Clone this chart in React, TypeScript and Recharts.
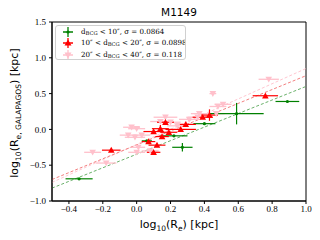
import React from "react";
import {
  ScatterChart,
  Scatter,
  XAxis,
  YAxis,
  ErrorBar,
  ReferenceLine,
  ReferenceArea,
} from "recharts";

const xTicks = [-0.4, -0.2, 0.0, 0.2, 0.4, 0.6, 0.8, 1.0];
const yTicks = [-1.0, -0.5, 0.0, 0.5, 1.0, 1.5];

const greenX = [-0.34, 0.06, 0.22, 0.27, 0.4, 0.59, 0.89];
const greenY = [-0.69, -0.16, -0.09, -0.25, 0.08, 0.22, 0.39];
const greenXerr = [0.08, 0.03, 0.08, 0.06, 0.065, 0.16, 0.07];
const greenYerr = [0.005, 0.005, 0.005, 0.06, 0.005, 0.15, 0.005];

const redX = [-0.15, 0.07, 0.1, 0.1, 0.12, 0.14, 0.15, 0.17, 0.19, 0.26, 0.29, 0.39, 0.43, 0.76];
const redY = [-0.29, -0.17, -0.03, -0.32, -0.22, 0.01, -0.1, 0.1, -0.04, 0.0, 0.07, 0.17, 0.2, 0.47];
const redXerr = [0.055, 0.04, 0.06, 0.04, 0.05, 0.05, 0.04, 0.05, 0.05, 0.09, 0.06, 0.06, 0.05, 0.075];
const redYerr = [0.01, 0.01, 0.01, 0.01, 0.01, 0.05, 0.01, 0.01, 0.01, 0.01, 0.01, 0.01, 0.08, 0.02];

const pinkX = [-0.26, -0.18, -0.05, -0.03, -0.01, 0.0, 0.01, 0.03, 0.0, 0.14, 0.17, 0.2, 0.31, 0.36, 0.37, 0.45, 0.48, 0.51, 0.47, 0.78, 0.08, 0.24];
const pinkY = [-0.32, -0.47, -0.08, 0.03, -0.11, -0.32, -0.25, -0.08, 0.01, 0.11, 0.17, 0.1, 0.14, 0.17, 0.22, 0.5, 0.32, 0.35, 0.22, 0.7, -0.3, 0.05];
const pinkXerr = [0.05, 0.06, 0.05, 0.05, 0.06, 0.05, 0.04, 0.05, 0.05, 0.06, 0.07, 0.06, 0.06, 0.06, 0.05, 0.02, 0.05, 0.05, 0.05, 0.06, 0.05, 0.06];

const fitX = [-0.5, 1.0];
const greenFitY = [-0.82, 0.6];
const redFitY = [-0.7, 0.75];
const pinkFitY = [-0.74, 0.85];

const greenData = greenX.map((x, i) => ({ x, y: greenY[i], xe: greenXerr[i], ye: greenYerr[i] }));
const redData = redX.map((x, i) => ({ x, y: redY[i], xe: redXerr[i], ye: redYerr[i] }));
const pinkData = pinkX.map((x, i) => ({ x, y: pinkY[i], xe: pinkXerr[i], ye: 0.01 }));

const GREEN = "#008000";
const RED = "#ff0000";
const PINK = "#ffc0cb";

const fmt = (v: number) => (v < 0 ? "\u2212" : "") + Math.abs(v).toFixed(1);

const Dot = (props: any) => {
  const { cx, cy } = props;
  return <circle cx={cx} cy={cy} r={1.6} fill={GREEN} />;
};
const TriUp = (props: any) => {
  const { cx, cy } = props;
  const s = 3.3;
  return <polygon points={`${cx},${cy - s} ${cx - s},${cy + s * 0.8} ${cx + s},${cy + s * 0.8}`} fill={RED} />;
};
const TriDown = (props: any) => {
  const { cx, cy } = props;
  const s = 3.3;
  return <polygon points={`${cx},${cy + s} ${cx - s},${cy - s * 0.8} ${cx + s},${cy - s * 0.8}`} fill={PINK} />;
};

const tickStyle = { fontFamily: "Liberation Serif", fontSize: 9, fill: "#000" };

const LegendMarker = ({ color, kind }: { color: string; kind: string }) => (
  <svg width={12} height={10} style={{ verticalAlign: "middle" }}>
    <line x1={1} y1={5} x2={11} y2={5} stroke={color} strokeWidth={1.3} />
    <line x1={6} y1={0} x2={6} y2={10} stroke={color} strokeWidth={1.3} />
    {kind === "dot" && <circle cx={6} cy={5} r={1.6} fill={color} />}
    {kind === "up" && <polygon points="6,1.5 2.5,7.5 9.5,7.5" fill={color} />}
    {kind === "down" && <polygon points="6,8.5 2.5,2.5 9.5,2.5" fill={color} />}
  </svg>
);

const sub = { fontSize: 5.2, verticalAlign: "-1px" };

export default function App() {
  return (
    <div style={{ position: "absolute", left: 0, top: 0, width: 320, height: 240, background: "#fff" }}>
      <ScatterChart width={320} height={240} margin={{ top: 22, right: 14, bottom: 14, left: 0 }}>
        <XAxis
          type="number"
          dataKey="x"
          domain={[-0.5, 1.0]}
          ticks={xTicks}
          tickFormatter={fmt}
          tick={tickStyle}
          tickSize={3}
          tickMargin={2}
          height={25}
          axisLine={{ stroke: "#000" }}
          tickLine={{ stroke: "#000" }}
          allowDataOverflow
        />
        <YAxis
          type="number"
          dataKey="y"
          domain={[-1.0, 1.5]}
          ticks={yTicks}
          tickFormatter={fmt}
          tick={tickStyle}
          tickSize={3}
          tickMargin={3}
          width={52}
          axisLine={{ stroke: "#000" }}
          tickLine={{ stroke: "#000" }}
          allowDataOverflow
        />
        <ReferenceArea x1={-0.5} x2={1.0} y1={-1.0} y2={1.5} fill="none" stroke="#000" strokeWidth={1} />
        <ReferenceLine
          segment={[{ x: fitX[0], y: pinkFitY[0] }, { x: fitX[1], y: pinkFitY[1] }]}
          stroke={PINK}
          strokeDasharray="3 2"
          strokeWidth={0.9}
        />
        <ReferenceLine
          segment={[{ x: fitX[0], y: redFitY[0] }, { x: fitX[1], y: redFitY[1] }]}
          stroke="#f07070"
          strokeDasharray="3 2"
          strokeWidth={0.9}
        />
        <ReferenceLine
          segment={[{ x: fitX[0], y: greenFitY[0] }, { x: fitX[1], y: greenFitY[1] }]}
          stroke="#5aa85a"
          strokeDasharray="3 2"
          strokeWidth={0.9}
        />
        <Scatter data={pinkData} shape={<TriDown />} isAnimationActive={false}>
          <ErrorBar dataKey="xe" direction="x" width={0} stroke={PINK} strokeWidth={1.3} />
        </Scatter>
        <Scatter data={greenData} shape={<Dot />} isAnimationActive={false}>
          <ErrorBar dataKey="xe" direction="x" width={0} stroke={GREEN} strokeWidth={1.2} />
          <ErrorBar dataKey="ye" direction="y" width={0} stroke={GREEN} strokeWidth={1.2} />
        </Scatter>
        <Scatter data={redData} shape={<TriUp />} isAnimationActive={false}>
          <ErrorBar dataKey="xe" direction="x" width={0} stroke={RED} strokeWidth={1.2} />
          <ErrorBar dataKey="ye" direction="y" width={0} stroke={RED} strokeWidth={1.2} />
        </Scatter>
      </ScatterChart>
      <svg width={320} height={240} style={{ position: "absolute", left: 0, top: 0, pointerEvents: "none" }}>
        <text x={179} y={16} textAnchor="middle" fontFamily="DejaVu Sans" fontSize={10.5} fill="#000">
          M1149
        </text>
        <text x={179} y={228} textAnchor="middle" fontFamily="DejaVu Sans" fontSize={11} fill="#000">
          log<tspan fontSize={7.5} dy={3}>10</tspan>
          <tspan dy={-3}>(R</tspan>
          <tspan fontSize={7.5} dy={3}>e</tspan>
          <tspan dy={-3}>) [kpc]</tspan>
        </text>
        <text
          x={0}
          y={0}
          transform="translate(18,113) rotate(-90)"
          textAnchor="middle"
          fontFamily="DejaVu Sans"
          fontSize={11}
          fill="#000"
        >
          log<tspan fontSize={7.5} dy={3}>10</tspan>
          <tspan dy={-3}>(R</tspan>
          <tspan fontSize={7.5} dy={3}>e, GALAPAGOS</tspan>
          <tspan dy={-3}>) [kpc]</tspan>
        </text>
      </svg>
      <div
        style={{
          position: "absolute",
          left: 55,
          top: 25,
          width: 131,
          height: 35,
          border: "1px solid #d0d0d0",
          borderRadius: 3,
          background: "rgba(255,255,255,0.85)",
          fontFamily: "DejaVu Serif",
          fontSize: 7.1,
          lineHeight: "10.3px",
          color: "#000",
          padding: "1px 0 0 6px",
          boxSizing: "border-box",
          whiteSpace: "nowrap",
          overflow: "hidden",
        }}
      >
        <div>
          <LegendMarker color={GREEN} kind="dot" />
          <span style={{ marginLeft: 7 }}>
            d<span style={sub}>BCG</span> &lt; 10″, σ = 0.0864
          </span>
        </div>
        <div>
          <LegendMarker color={RED} kind="up" />
          <span style={{ marginLeft: 7 }}>
            10″ &lt; d<span style={sub}>BCG</span> &lt; 20″, σ = 0.0898
          </span>
        </div>
        <div>
          <LegendMarker color={PINK} kind="down" />
          <span style={{ marginLeft: 7 }}>
            20″ &lt; d<span style={sub}>BCG</span> &lt; 40″, σ = 0.118
          </span>
        </div>
      </div>
    </div>
  );
}
